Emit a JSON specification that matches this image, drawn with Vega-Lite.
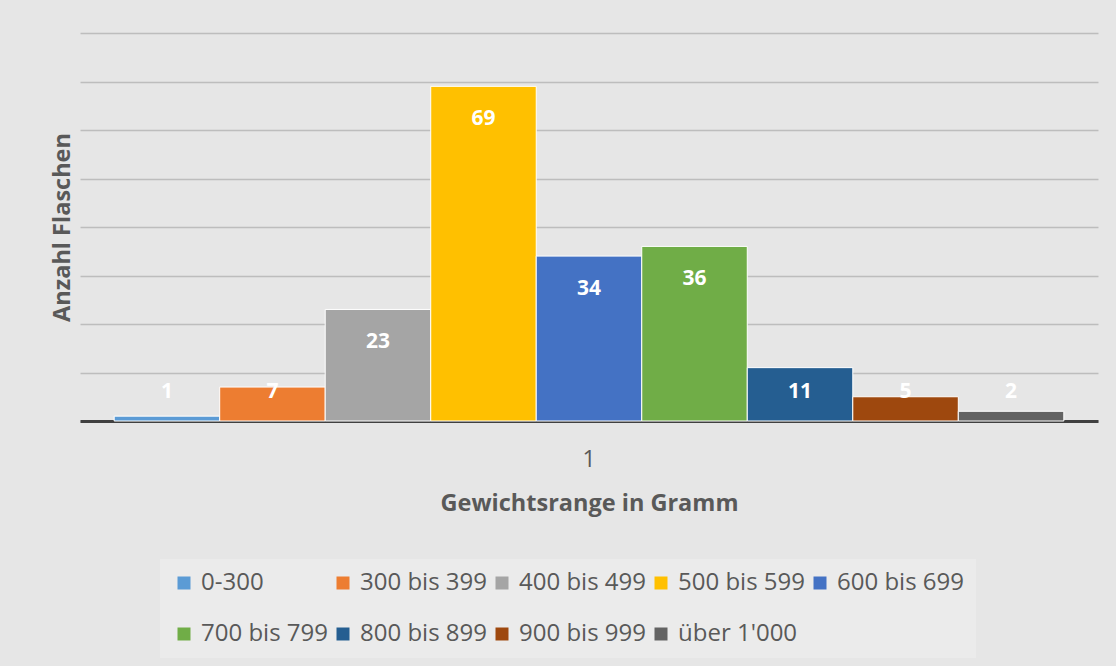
{
  "$schema": "https://vega.github.io/schema/vega-lite/v6.json",
  "width": 1018,
  "height": 388,
  "autosize": "none",
  "padding": {"left": 80, "top": 33, "right": 18, "bottom": 245},
  "background": "#e6e6e6",
  "config": {"font": "Open Sans", "view": {"stroke": null}},
  "data": {
    "values": [
      {"cat": "1", "series": "0-300", "n": 1},
      {"cat": "1", "series": "300 bis 399", "n": 7},
      {"cat": "1", "series": "400 bis 499", "n": 23},
      {"cat": "1", "series": "500 bis 599", "n": 69},
      {"cat": "1", "series": "600 bis 699", "n": 34},
      {"cat": "1", "series": "700 bis 799", "n": 36},
      {"cat": "1", "series": "800 bis 899", "n": 11},
      {"cat": "1", "series": "900 bis 999", "n": 5},
      {"cat": "1", "series": "über 1'000", "n": 2}
    ]
  },
  "encoding": {
    "x": {
      "field": "cat",
      "type": "nominal",
      "scale": {"paddingInner": 0, "paddingOuter": 0.036},
      "title": "Gewichtsrange in Gramm",
      "axis": {
        "labelAngle": 0,
        "labelFontSize": 23,
        "labelColor": "#595959",
        "labelPadding": 27,
        "ticks": false,
        "domainColor": "#404040",
        "domainWidth": 3,
        "grid": false,
        "titleFontSize": 23.5,
        "titleFontWeight": "bold",
        "titleColor": "#595959",
        "titlePadding": 20
      }
    },
    "xOffset": {
      "field": "series",
      "type": "nominal",
      "sort": ["0-300", "300 bis 399", "400 bis 499", "500 bis 599", "600 bis 699", "700 bis 799", "800 bis 899", "900 bis 999", "über 1'000"],
      "scale": {"paddingInner": 0, "paddingOuter": 0}
    }
  },
  "layer": [
    {
      "mark": {"type": "bar", "stroke": "white", "strokeWidth": 1},
      "encoding": {
        "y": {
          "field": "n",
          "type": "quantitative",
          "scale": {"domain": [0, 80], "nice": false},
          "title": "Anzahl Flaschen",
          "axis": {
            "values": [0, 10, 20, 30, 40, 50, 60, 70, 80],
            "labels": false,
            "ticks": false,
            "domain": false,
            "gridColor": "#bdbdbd",
            "gridWidth": 1.5,
            "titleFontSize": 23.5,
            "titleFontWeight": "bold",
            "titleColor": "#595959",
            "titlePadding": 6
          }
        },
        "color": {
          "field": "series",
          "type": "nominal",
          "sort": ["0-300", "300 bis 399", "400 bis 499", "500 bis 599", "600 bis 699", "700 bis 799", "800 bis 899", "900 bis 999", "über 1'000"],
          "scale": {
            "domain": ["0-300", "300 bis 399", "400 bis 499", "500 bis 599", "600 bis 699", "700 bis 799", "800 bis 899", "900 bis 999", "über 1'000"],
            "range": ["#5B9BD5", "#ED7D31", "#A5A5A5", "#FFC000", "#4472C4", "#70AD47", "#255E91", "#9E480E", "#636363"]
          },
          "legend": {
            "title": null,
            "orient": "none",
            "direction": "horizontal",
            "legendX": 80,
            "legendY": 526,
            "columns": 5,
            "gridAlign": "all",
            "symbolType": "square",
            "symbolSize": 169,
            "symbolStrokeWidth": 0,
            "labelOffset": 5,
            "labelFontSize": 24,
            "labelColor": "#595959",
            "labelLimit": 300,
            "columnPadding": 3,
            "rowPadding": 27,
            "padding": 12,
            "fillColor": "#ebebeb"
          }
        }
      }
    },
    {
      "transform": [{"filter": "datum.n >= 15"}],
      "mark": {"type": "text", "dy": 33, "color": "white", "fontSize": 21, "fontWeight": "bold"},
      "encoding": {
        "y": {"field": "n", "type": "quantitative"},
        "text": {"field": "n", "type": "quantitative"}
      }
    },
    {
      "transform": [{"filter": "datum.n < 15"}],
      "mark": {"type": "text", "color": "white", "fontSize": 21, "fontWeight": "bold"},
      "encoding": {
        "y": {"datum": 6},
        "text": {"field": "n", "type": "quantitative"}
      }
    }
  ]
}
